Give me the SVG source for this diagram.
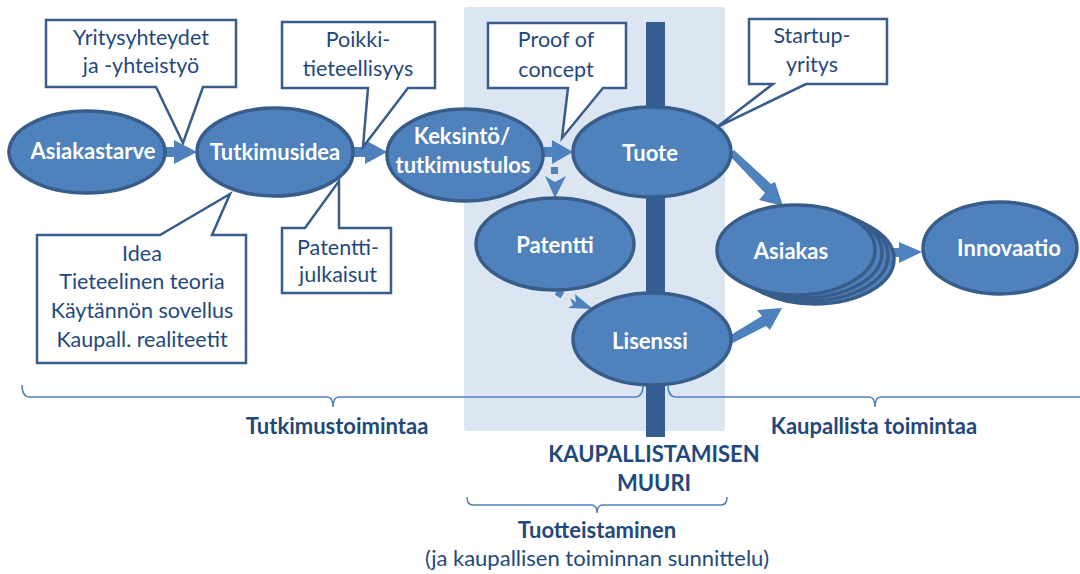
<svg xmlns="http://www.w3.org/2000/svg" width="1080" height="574" viewBox="0 0 1080 574">
<style>
.n{fill:#4F81BD;stroke:#385D8A;stroke-width:3.5}
.nt{font-family:Lato,"Liberation Sans",sans-serif;font-weight:bold;font-size:22px;fill:#fff;text-anchor:middle}
.co{fill:#fff;stroke:#385D8A;stroke-width:2.5;stroke-linejoin:miter}
.ct{font-family:Lato,"Liberation Sans",sans-serif;font-size:21.5px;fill:#1F497D;text-anchor:middle}
.ar{fill:#4F81BD}
.br{fill:none;stroke:#4F81BD;stroke-width:1.5}
.bt{font-family:Lato,"Liberation Sans",sans-serif;font-weight:bold;font-size:22px;fill:#1F497D;text-anchor:middle}
.rt{font-family:Lato,"Liberation Sans",sans-serif;font-size:22px;fill:#1F497D;text-anchor:middle}
</style>
<rect id="panel" x="464" y="7" width="261" height="424" rx="3" fill="#DCE6F2"/>
<rect id="wall" x="646" y="22" width="19" height="415" fill="#375E93"/>
<g id="connectors">
<polygon class="ar" points="166,147 174,147 174,140 197,152 174,164 174,157 166,157"/>
<polygon class="ar" points="354,147 365,147 365,140 387,152 365,164 365,157 354,157"/>
<polygon class="ar" points="544,147 552,147 552,140 573,152 552,164 552,157 544,157"/>
<rect class="ar" x="551" y="167" width="7" height="7"/>
<polygon class="ar" points="545,176 555,182 566,176 555,198"/>
<rect class="ar" x="556" y="290" width="7" height="7" transform="rotate(30 559.5 293.5)"/>
<polygon class="ar" points="570,298 576,302 575,294 593,309 568,308 573,305"/>
<polygon class="ar" points="729,155 734,150 771,184 775,182 783,206 759,200 765,193"/>
<polygon class="ar" points="724,339 727,346 766,326 770,330 782,308 757,310 762,316"/>
<polygon class="ar" points="885,248 899,248 899,242 922,252 899,263 899,257 885,257"/>
</g>
<g id="asiakastarve"><ellipse class="n" cx="87" cy="152" rx="78" ry="41"/><text class="nt" x="93" y="159">Asiakastarve</text></g>
<g id="tutkimusidea"><ellipse class="n" cx="275" cy="152" rx="78" ry="44"/><text class="nt" x="275" y="160">Tutkimusidea</text></g>
<g id="keksinto"><ellipse class="n" cx="465" cy="155" rx="78" ry="46"/><text class="nt" x="462" y="144">Keksintö/</text><text class="nt" x="463" y="173">tutkimustulos</text></g>
<g id="tuote"><ellipse class="n" cx="652" cy="152" rx="79" ry="45"/><text class="nt" x="650" y="161">Tuote</text></g>
<g id="patentti"><ellipse class="n" cx="555" cy="244" rx="79" ry="46"/><text class="nt" x="555" y="253">Patentti</text></g>
<g id="lisenssi"><ellipse class="n" cx="652" cy="339" rx="79" ry="46"/><text class="nt" x="650" y="349">Lisenssi</text></g>
<g id="asiakas">
<ellipse class="n" cx="815" cy="259" rx="79" ry="45"/>
<ellipse class="n" cx="809" cy="256" rx="79" ry="45"/>
<ellipse class="n" cx="803" cy="253" rx="79" ry="45"/>
<ellipse class="n" cx="796" cy="250" rx="79" ry="45"/>
<text class="nt" x="791" y="259">Asiakas</text></g>
<g id="innovaatio"><ellipse class="n" cx="1000" cy="248" rx="77" ry="46"/><text class="nt" x="1009" y="256">Innovaatio</text></g>
<g id="c-yritys"><path class="co" d="M46,20 H236 V87 H203 L183,143 L156,87 H46 Z"/><text class="ct" x="141" y="45">Yritysyhteydet</text><text class="ct" x="141" y="73">ja -yhteistyö</text></g>
<g id="c-poikki"><path class="co" d="M282,22 H435 V88 H408 L363,147 L368,88 H282 Z"/><text class="ct" x="358" y="47">Poikki-</text><text class="ct" x="358" y="76">tieteellisyys</text></g>
<g id="c-proof"><path class="co" d="M488,23 H626 V88 H603 L562,138 L568,88 H488 Z"/><text class="ct" x="556" y="47">Proof of</text><text class="ct" x="556" y="77">concept</text></g>
<g id="c-startup"><path class="co" d="M749,19 H887 V84 H806 L717,127 L773,84 H749 Z"/><text class="ct" x="812" y="43">Startup-</text><text class="ct" x="812" y="72">yritys</text></g>
<g id="c-idea"><path class="co" d="M37,235 H160 L230,194 L212,235 H246 V363 H37 Z"/><text class="ct" x="142" y="261">Idea</text><text class="ct" x="142" y="289">Tieteelinen teoria</text><text class="ct" x="142" y="318">Käytännön sovellus</text><text class="ct" x="142" y="347">Kaupall. realiteetit</text></g>
<g id="c-patentti"><path class="co" d="M282,228 H305 L339,181 V228 H391 V293 H282 Z"/><text class="ct" x="338" y="255">Patentti-</text><text class="ct" x="338" y="282">julkaisut</text></g>
<g id="brackets">
<path class="br" d="M22,385 Q22,397 30,397 H327 Q333,397 333,407 Q333,397 339,397 H635 Q643,397 643,385"/>
<path class="br" d="M668,385 Q668,397 676,397 H869 Q875,397 875,407 Q875,397 881,397 H1080"/>
<path class="br" d="M467,497 Q467,505 473,505 H591 Q597,505 597,513 Q597,505 603,505 H721 Q727,505 727,497"/>
</g>
<g id="labels">
<text class="bt" x="337" y="434">Tutkimustoimintaa</text>
<text class="bt" x="874" y="434">Kaupallista toimintaa</text>
<text class="bt" x="654" y="462">KAUPALLISTAMISEN</text>
<text class="bt" x="654" y="491">MUURI</text>
<text class="bt" x="597" y="538">Tuotteistaminen</text>
<text class="rt" x="597" y="566">(ja kaupallisen toiminnan sunnittelu)</text>
</g>
</svg>
